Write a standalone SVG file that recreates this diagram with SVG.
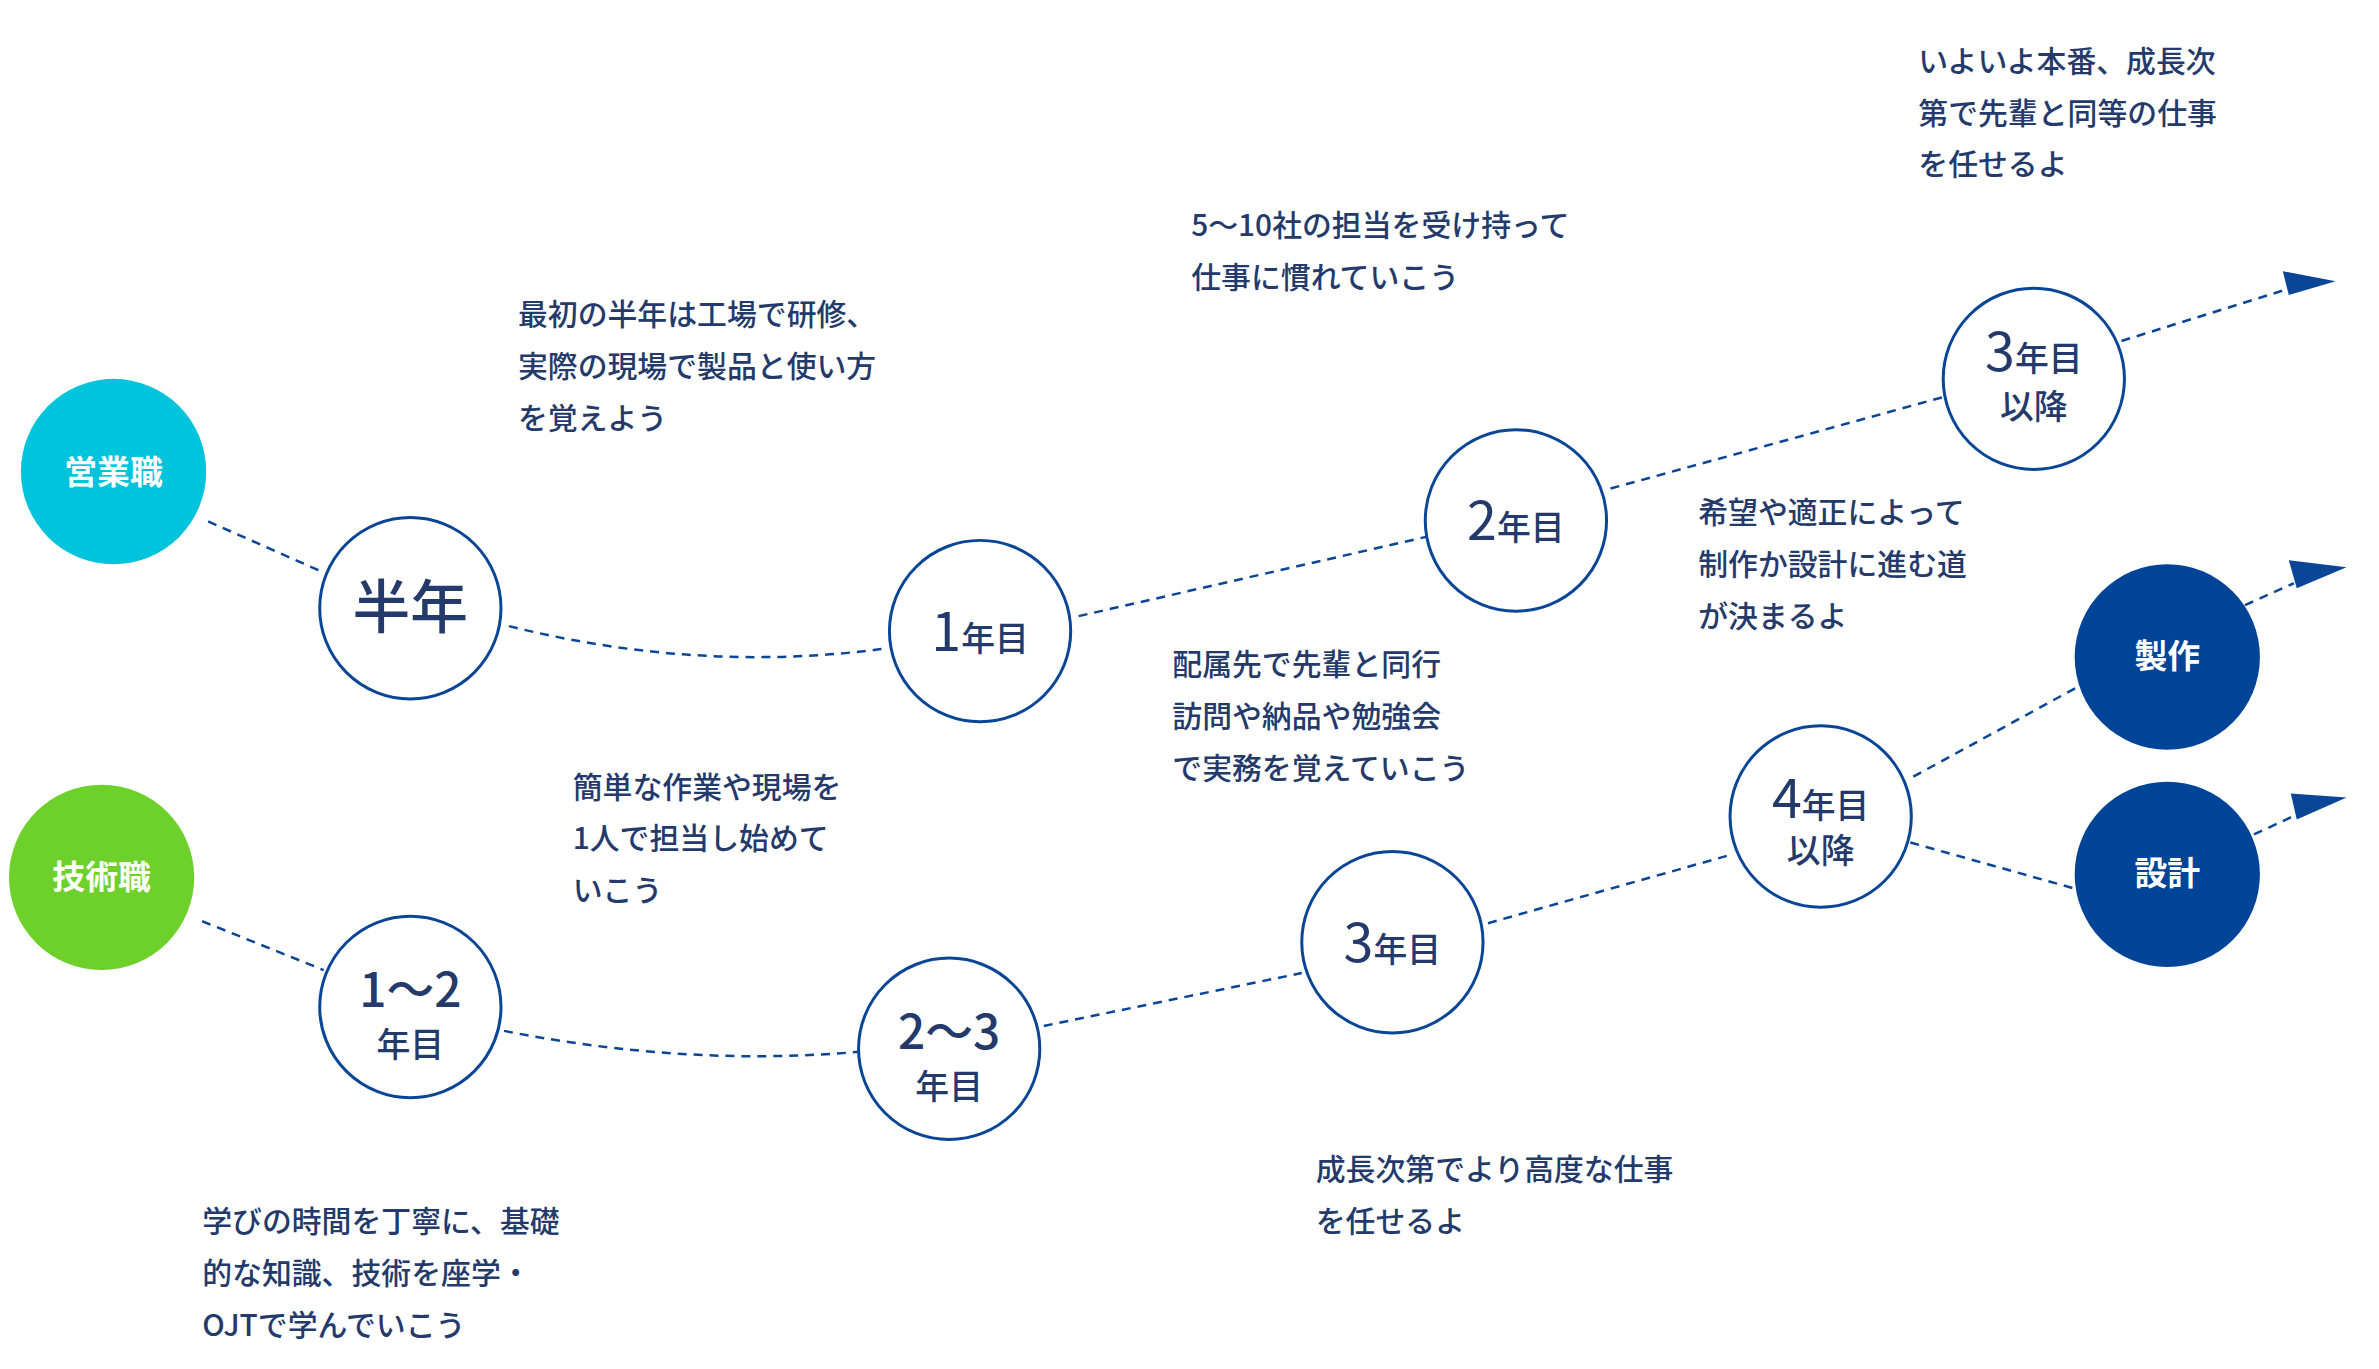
<svg xmlns="http://www.w3.org/2000/svg" width="2379" height="1369" viewBox="0 0 2379 1369">
<style>
.n{fill:#fff;stroke:#0a4596;stroke-width:3}
.c{fill:none;stroke:#0a4596;stroke-width:2.5;stroke-dasharray:9 7}
.t{font-family:"Noto Sans CJK JP","Noto Sans",sans-serif;fill:#243a6b;font-weight:500}
.d{font-size:30px}
.w{fill:#fff;font-weight:700;font-size:33px}
.a{fill:#0a4596}
.big{font-size:54px;font-weight:400}
.sm{font-size:34px}
</style>
<rect width="2379" height="1369" fill="#fff"/>
<g transform="scale(0.996,0.997)">
<g id="connectors">
<path class="c" d="M209,523 L320,572"/>
<path class="c" d="M511,628 Q700,675 885,651"/>
<path class="c" d="M1083,618 L1434,538"/>
<path class="c" d="M1617,490 L1952,398"/>
<path class="c" d="M2130,342 L2303,288"/>
<path class="c" d="M203,924 L325,973"/>
<path class="c" d="M506,1034 Q690,1070 862,1055"/>
<path class="c" d="M1048,1029 L1307,976"/>
<path class="c" d="M1494,926 L1739,857"/>
<path class="c" d="M1921,779 L2086,689"/>
<path class="c" d="M2254,607 L2303,585"/>
<path class="c" d="M1918,845 L2082,891"/>
<path class="c" d="M2263,837 L2306,817"/>
<polygon class="a" points="2345,282 2292,272 2298,296"/>
<polygon class="a" points="2356,569 2298,562 2306,590"/>
<polygon class="a" points="2356,800 2300,796 2306,822"/>
</g>
<g id="eigyo"><circle cx="114" cy="473" r="93" fill="#00c3dc"/><text class="t w" x="114" y="485" text-anchor="middle">営業職</text></g>
<g id="hantoshi"><circle class="n" cx="412" cy="610" r="91"/><text class="t" x="412" y="630" text-anchor="middle" font-size="58">半年</text></g>
<g id="y1"><circle class="n" cx="984" cy="633" r="91"/><text class="t" x="984" y="653" text-anchor="middle"><tspan class="big">1</tspan><tspan class="sm">年目</tspan></text></g>
<g id="y2"><circle class="n" cx="1522" cy="522" r="91"/><text class="t" x="1522" y="542" text-anchor="middle"><tspan class="big">2</tspan><tspan class="sm">年目</tspan></text></g>
<g id="y3up"><circle class="n" cx="2042" cy="380" r="91"/><text class="t" x="2042" y="372" text-anchor="middle"><tspan class="big">3</tspan><tspan class="sm">年目</tspan></text><text class="t sm" x="2042" y="420" text-anchor="middle">以降</text></g>
<g id="gijutsu"><circle cx="102" cy="880" r="93" fill="#6ed12b"/><text class="t w" x="102" y="892" text-anchor="middle">技術職</text></g>
<g id="y12"><circle class="n" cx="412" cy="1010" r="91"/><text class="t" x="412" y="1010" text-anchor="middle" font-size="48" font-weight="400">1〜2</text><text class="t sm" x="412" y="1060" text-anchor="middle">年目</text></g>
<g id="y23"><circle class="n" cx="953" cy="1052" r="91"/><text class="t" x="953" y="1052" text-anchor="middle" font-size="48" font-weight="400">2〜3</text><text class="t sm" x="953" y="1102" text-anchor="middle">年目</text></g>
<g id="y3"><circle class="n" cx="1398" cy="945" r="91"/><text class="t" x="1398" y="965" text-anchor="middle"><tspan class="big">3</tspan><tspan class="sm">年目</tspan></text></g>
<g id="y4up"><circle class="n" cx="1828" cy="819" r="91"/><text class="t" x="1828" y="820" text-anchor="middle"><tspan class="big">4</tspan><tspan class="sm">年目</tspan></text><text class="t sm" x="1828" y="866" text-anchor="middle">以降</text></g>
<g id="seisaku"><circle cx="2176" cy="659" r="93" fill="#004497"/><text class="t w" x="2176" y="670" text-anchor="middle" font-size="30">製作</text></g>
<g id="sekkei"><circle cx="2176" cy="877" r="93" fill="#004497"/><text class="t w" x="2176" y="888" text-anchor="middle" font-size="30">設計</text></g>
<g id="labels" class="t d">
<text x="520" y="326">最初の半年は工場で研修、<tspan x="520" dy="52">実際の現場で製品と使い方</tspan><tspan x="520" dy="52">を覚えよう</tspan></text>
<text x="1196" y="237">5〜10社の担当を受け持って<tspan x="1196" dy="52">仕事に慣れていこう</tspan></text>
<text x="1926" y="72">いよいよ本番、成長次<tspan x="1926" dy="52">第で先輩と同等の仕事</tspan><tspan x="1926" dy="52">を任せるよ</tspan></text>
<text x="1705" y="525">希望や適正によって<tspan x="1705" dy="52">制作か設計に進む道</tspan><tspan x="1705" dy="52">が決まるよ</tspan></text>
<text x="1177" y="677">配属先で先輩と同行<tspan x="1177" dy="52">訪問や納品や勉強会</tspan><tspan x="1177" dy="52">で実務を覚えていこう</tspan></text>
<text x="575" y="800">簡単な作業や現場を<tspan x="575" dy="52">1人で担当し始めて</tspan><tspan x="575" dy="52">いこう</tspan></text>
<text x="203" y="1236">学びの時間を丁寧に、基礎<tspan x="203" dy="52">的な知識、技術を座学・</tspan><tspan x="203" dy="52">OJTで学んでいこう</tspan></text>
<text x="1321" y="1184">成長次第でより高度な仕事<tspan x="1321" dy="52">を任せるよ</tspan></text>
</g>
</g>
</svg>
